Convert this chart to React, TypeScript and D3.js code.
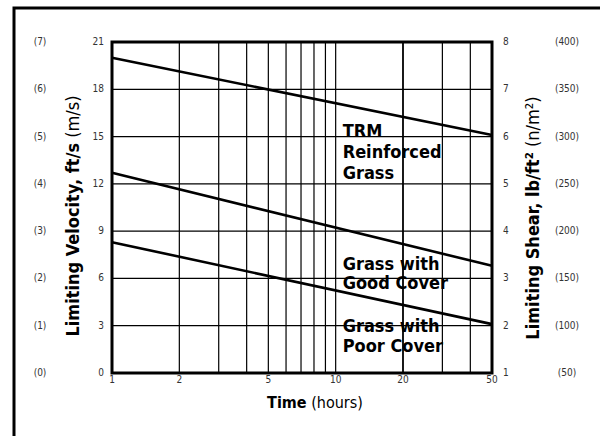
import React from 'react';
import * as d3 from 'd3';

// values
const velocityTicks = [0, 3, 6, 9, 12, 15, 18, 21];
const metricVelocityLabels = ['(0)', '(1)', '(2)', '(3)', '(4)', '(5)', '(6)', '(7)'];
const shearTicks = [1, 2, 3, 4, 5, 6, 7, 8];
const metricShearLabels = ['(50)', '(100)', '(150)', '(200)', '(250)', '(300)', '(350)', '(400)'];
const timeGrid = [2, 3, 4, 5, 6, 7, 8, 9, 10, 20, 30, 40];
const timeLabels = [1, 2, 5, 10, 20, 50];

const hours = [1, 50];
const trmReinforced = [20.0, 15.1];
const goodCover = [12.7, 6.8];
const poorCover = [8.3, 3.1];

const seriesNames = [
  ['TRM', 'Reinforced', 'Grass'],
  ['Grass with', 'Good Cover'],
  ['Grass with', 'Poor Cover'],
];

const W = 600;
const H = 436;
const left = 112, right = 492, top = 42, bottom = 373;

const narrow = "'Liberation Sans Narrow', 'DejaVu Sans Condensed', Arial, sans-serif";

export default function App() {
  const x = d3.scaleLog().domain([1, 50]).range([left, right]);
  const y = d3.scaleLinear().domain([0, 21]).range([bottom, top]);
  const y2 = d3.scaleLinear().domain([1, 8]).range([bottom, top]);

  const line = d3.line<[number, number]>()
    .x(d => x(d[0]))
    .y(d => y(d[1]));

  const series = [trmReinforced, goodCover, poorCover].map(vals =>
    hours.map((h, i) => [h, vals[i]] as [number, number]));

  // first baseline of each label block, hung off the line ends
  const labelX = x(10) + 7;
  const labelY = [y(trmReinforced[1]) + 2, y(goodCover[1]) + 4, y(poorCover[1]) + 8];
  const lineGap = [21, 19, 20];

  return (
    <svg width={W} height={H} style={{ position: 'absolute', left: 0, top: 0, background: '#fff' }}>
      {/* outer frame */}
      <path d={`M14,${H + 5} V8 H${W + 5}`} fill="none" stroke="#000" strokeWidth={3} />

      {/* grid */}
      {velocityTicks.slice(1, -1).map(v => (
        <line key={'h' + v} x1={left} x2={right} y1={y(v)} y2={y(v)} stroke="#000" strokeWidth={1.2} />
      ))}
      {timeGrid.map(t => (
        <line key={'v' + t} x1={x(t)} x2={x(t)} y1={top} y2={bottom} stroke="#000"
          strokeWidth={t === 20 ? 1.8 : 1.2} />
      ))}

      {/* series */}
      {series.map((s, i) => (
        <path key={'s' + i} d={line(s) || ''} fill="none" stroke="#000" strokeWidth={2.6} />
      ))}

      {/* plot border */}
      <rect x={left} y={top} width={right - left} height={bottom - top} fill="none" stroke="#000" strokeWidth={3} />

      {/* series labels */}
      {seriesNames.map((names, i) => (
        <text key={'n' + i} x={labelX} y={labelY[i]} fontFamily={narrow} fontWeight="bold" fontSize={18} fill="#000">
          {names.map((n, j) => (
            <tspan key={j} x={labelX} dy={j === 0 ? 0 : lineGap[i]}>{n}</tspan>
          ))}
        </text>
      ))}

      {/* left ticks */}
      {velocityTicks.map((v, i) => (
        <g key={'l' + v} fontFamily={narrow} fontSize={10} fill="#333">
          <text x={104} y={y(v) + 3} textAnchor="end">{v}</text>
          <text x={40} y={y(v) + 3} textAnchor="middle">{metricVelocityLabels[i]}</text>
        </g>
      ))}

      {/* right ticks */}
      {shearTicks.map((v, i) => (
        <g key={'r' + v} fontFamily={narrow} fontSize={10} fill="#333">
          <text x={503} y={y2(v) + 3} textAnchor="start">{v}</text>
          <text x={567} y={y2(v) + 3} textAnchor="middle">{metricShearLabels[i]}</text>
        </g>
      ))}

      {/* bottom ticks */}
      {timeLabels.map(t => (
        <text key={'b' + t} x={x(t)} y={383} textAnchor="middle" fontFamily={narrow} fontSize={10} fill="#333">{t}</text>
      ))}

      {/* axis titles */}
      <text transform={`translate(79,216) rotate(-90)`} textAnchor="middle" fontFamily={narrow} fontSize={18} fill="#000">
        <tspan fontWeight="bold">Limiting Velocity, ft/s</tspan>
        <tspan> (m/s)</tspan>
      </text>
      <text transform={`translate(539,218) rotate(-90)`} textAnchor="middle" fontFamily={narrow} fontSize={18} fill="#000">
        <tspan fontWeight="bold">Limiting Shear, lb/ft²</tspan>
        <tspan> (n/m²)</tspan>
      </text>
      <text x={315} y={408} textAnchor="middle" fontFamily={narrow} fontSize={16} fill="#000">
        <tspan fontWeight="bold">Time</tspan>
        <tspan> (hours)</tspan>
      </text>
    </svg>
  );
}
